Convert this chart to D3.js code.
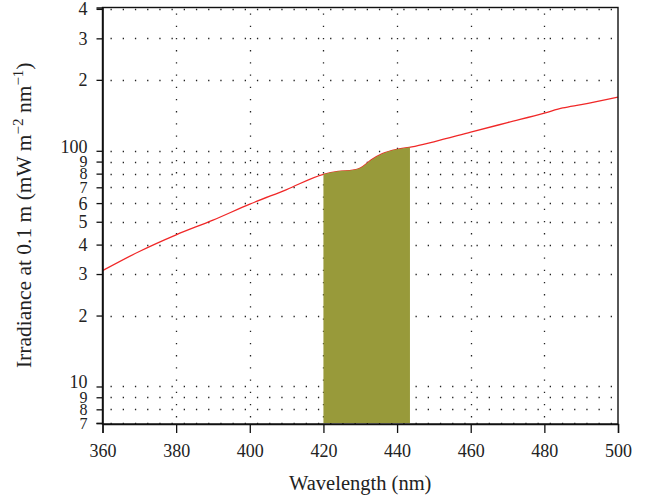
<!DOCTYPE html>
<html>
<head>
<meta charset="utf-8">
<script src="https://cdn.jsdelivr.net/npm/d3@7"></script>
<style>
  html, body { margin: 0; padding: 0; background: #fff; }
  svg text { font-family: "Liberation Serif", "DejaVu Serif", serif; fill: #222; }
</style>
</head>
<body>
<svg id="chart" width="657" height="498"></svg>
<script>
// Spectral irradiance at 0.1 m
const wavelength = [360, 370, 380, 390, 400, 410, 420, 424, 428, 430, 433, 436, 440, 444, 450, 460, 470, 480, 485, 490, 500];
const irradiance = [31.0, 37.4, 44.0, 50.8, 59.4, 68.5, 79.5, 81.8, 82.8, 84.5, 91.5, 97.2, 101.5, 103.8, 109.2, 120, 131.7, 144.5, 152, 157, 169];

// Highlighted emission band (nm)
const band = [420, 443.5];

const xTicks = [360, 380, 400, 420, 440, 460, 480, 500];
const yTicks = [7, 8, 9, 10, 20, 30, 40, 50, 60, 70, 80, 90, 100, 200, 300, 400];
const yTickLabels = ["7", "8", "9", "10", "2", "3", "4", "5", "6", "7", "8", "9", "100", "2", "3", "4"];

const svg = d3.select("#chart");
const plotL = 102.5, plotR = 618, plotT = 7.5, plotB = 423;

const x = d3.scaleLinear().domain([360, 500]).range([plotL, plotR]);
const y = d3.scaleLog().domain([7, 405.5]).range([plotB, plotT]);

const data = wavelength.map((w, i) => ({ w, v: irradiance[i] }));

// Dotted grid
const grid = svg.append("g").attr("stroke", "#222").attr("stroke-width", 1.3)
  .attr("stroke-dasharray", "1.3,10.9");
grid.selectAll("line.h").data(yTicks).join("line")
  .attr("x1", plotL + 8).attr("x2", plotR)
  .attr("y1", d => Math.round(y(d)) + 0.5).attr("y2", d => Math.round(y(d)) + 0.5);
grid.selectAll("line.v").data(xTicks.slice(1, -1)).join("line")
  .attr("x1", d => Math.round(x(d)) + 0.5).attr("x2", d => Math.round(x(d)) + 0.5)
  .attr("y1", plotT + 6).attr("y2", plotB);

// Spectrum line
const line = d3.line().x(d => x(d.w)).y(d => y(d.v)).curve(d3.curveMonotoneX);
svg.append("path").datum(data)
  .attr("d", line).attr("fill", "none")
  .attr("stroke", "#f02828").attr("stroke-width", 1.3);

// Band fill under the spectrum
svg.append("clipPath").attr("id", "bandClip")
  .append("rect")
  .attr("x", x(band[0])).attr("y", plotT)
  .attr("width", x(band[1]) - x(band[0])).attr("height", plotB - plotT);
const area = d3.area().x(d => x(d.w)).y0(plotB).y1(d => y(d.v)).curve(d3.curveMonotoneX);
svg.append("path").datum(data)
  .attr("d", area).attr("fill", "#989a3a")
  .attr("clip-path", "url(#bandClip)");

// Frame
svg.append("rect")
  .attr("x", plotL).attr("y", plotT)
  .attr("width", plotR - plotL).attr("height", plotB - plotT + 1)
  .attr("fill", "none").attr("stroke", "#111").attr("stroke-width", 1.4);

// Y axis
const yAxis = d3.axisLeft(y).tickValues(yTicks).tickSize(6).tickFormat((d, i) => yTickLabels[i]);
const gy = svg.append("g").attr("transform", `translate(${plotL},0)`).call(yAxis);
gy.select(".domain").attr("stroke", "#111").attr("stroke-width", 1.6);
gy.selectAll(".tick line").attr("stroke", "#111").attr("stroke-width", 1.3);
gy.selectAll(".tick text")
  .attr("x", -15)
  .attr("dy", d => (d === 10 || d === 100) ? "0.08em" : "0.33em")
  .style("font-size", d => (d >= 7 && d <= 9) || (d >= 70 && d <= 90) ? "16px" : "18px")
  .style("font-family", "'Liberation Serif', serif").attr("fill", "#222");

// X axis
const xAxis = d3.axisBottom(x).tickValues(xTicks).tickSize(9).tickFormat(d3.format("d"));
const gx = svg.append("g").attr("transform", `translate(0,${plotB + 1})`).call(xAxis);
gx.select(".domain").attr("stroke", "#111").attr("stroke-width", 1.4);
gx.selectAll(".tick line").attr("stroke", "#111").attr("stroke-width", 1.3);
gx.selectAll(".tick text")
  .attr("y", 20)
  .style("font-size", "18px").style("font-family", "'Liberation Serif', serif").attr("fill", "#222");

// Axis titles
svg.append("text")
  .attr("x", (plotL + plotR) / 2).attr("y", 490)
  .attr("text-anchor", "middle").style("font-size", "20.5px")
  .text("Wavelength (nm)");

const yt = svg.append("text")
  .attr("transform", `translate(31,${(plotT + plotB) / 2}) rotate(-90)`)
  .attr("text-anchor", "middle").style("font-size", "21.5px");
yt.append("tspan").text("Irradiance at 0.1 m (mW m");
yt.append("tspan").attr("dy", -8).style("font-size", "15px").text("−2");
yt.append("tspan").attr("dy", 8).text(" nm");
yt.append("tspan").attr("dy", -8).style("font-size", "15px").text("−1");
yt.append("tspan").attr("dy", 8).text(")");
</script>
</body>
</html>
